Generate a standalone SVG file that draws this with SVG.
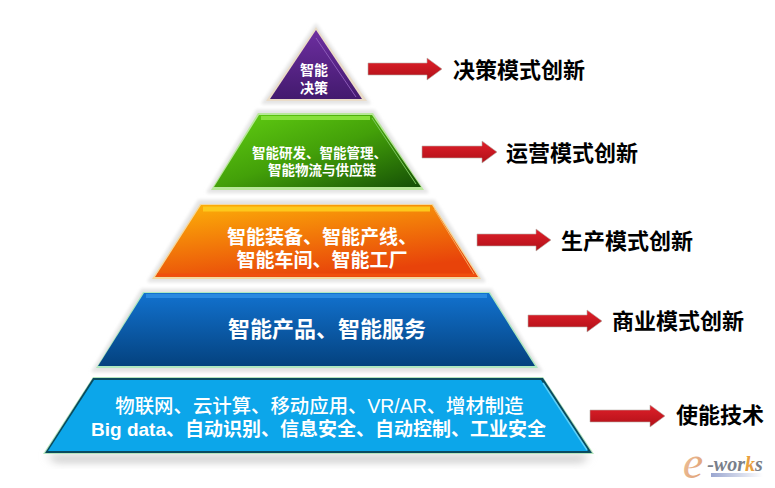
<svg xmlns="http://www.w3.org/2000/svg" width="775" height="488" viewBox="0 0 775 488">
<style>
text{font-family:"Liberation Sans","Noto Sans CJK SC",sans-serif;text-anchor:middle}
.in{fill:#fff;font-weight:700}
.lb{fill:#000;font-weight:700;font-size:22px;text-anchor:start}
.halo{fill:#e0e0e0;stroke:#e8e8e8;stroke-width:3;stroke-linejoin:round;filter:url(#soft)}
.ar{fill:url(#red);stroke:#b5b0a8;stroke-width:.6}
</style>
<defs>
<linearGradient id="pu" x1="0" y1="0" x2="0" y2="1"><stop offset="0" stop-color="#6d2ea0"/><stop offset="1" stop-color="#431a6e"/></linearGradient>
<linearGradient id="gr" x1="0" y1="0" x2="1" y2="1"><stop offset="0" stop-color="#62cf12"/><stop offset=".5" stop-color="#43a009"/><stop offset="1" stop-color="#154f06"/></linearGradient>
<linearGradient id="or" x1="0" y1="0" x2="0.5" y2="1"><stop offset="0" stop-color="#fdb308"/><stop offset="1" stop-color="#e8430a"/></linearGradient>
<linearGradient id="bl" x1="0" y1="0" x2="0" y2="1"><stop offset="0" stop-color="#1272cf"/><stop offset="1" stop-color="#04427f"/></linearGradient>
<linearGradient id="red" x1="0" y1="0" x2="0" y2="1"><stop offset="0" stop-color="#e0202a"/><stop offset="1" stop-color="#b01018"/></linearGradient>
<linearGradient id="sw" x1="0" y1="0" x2="1" y2="0"><stop offset="0" stop-color="#9aa6d0"/><stop offset="1" stop-color="#fff"/></linearGradient>
<linearGradient id="eg" x1="0" y1="0" x2="1" y2="1"><stop offset="0" stop-color="#f0c8a0"/><stop offset="1" stop-color="#dd9a70"/></linearGradient>
<filter id="bl3" x="-10%" y="-100%" width="120%" height="300%"><feGaussianBlur stdDeviation="4.5"/></filter>
<filter id="soft" x="-10%" y="-10%" width="120%" height="120%"><feGaussianBlur stdDeviation="1.6"/></filter>
</defs>

<g id="shadow"><polygon points="46,455 590,455 582,462 56,462" fill="#c4c4c4" filter="url(#bl3)"/></g>

<g id="node-decision">
<polygon class="halo" points="316,25 369,103 263,103"/>
<polygon points="316,27 367,101 266,101" fill="#eadcc8"/>
<polygon points="316,30 362,99 270,99" fill="url(#pu)"/>
<line x1="316" y1="38" x2="356" y2="97" stroke="#8c5ab8" stroke-width="1"/>
<text class="in" font-size="14"><tspan x="314" y="75">智能</tspan><tspan x="314" y="93">决策</tspan></text>
</g>

<g id="node-ops">
<polygon class="halo" points="257,111 374,111 427,192 208,192"/>
<polygon points="258,113 373,113 424,190 211,190" fill="#b8e89a"/>
<polygon points="259,115 372,115 421,187 214,187" fill="url(#gr)"/>
<line x1="261" y1="118" x2="370" y2="118" stroke="#86e03a" stroke-width="4"/>
<line x1="372" y1="118" x2="416" y2="184" stroke="#7fc860" stroke-width="1"/>
<text class="in" font-size="13.500"><tspan x="319.500" y="158">智能研发、智能管理、</tspan><tspan x="322" y="175">智能物流与供应链</tspan></text>
</g>

<g id="node-production">
<polygon class="halo" points="199,201 434,201 484,281 149,281"/>
<polygon points="200,204 433,204 481,279 152,279" fill="#f4d9a0"/>
<polygon points="201,205 432,205 478,277 155,277" fill="url(#or)"/>
<line x1="203" y1="209" x2="430" y2="209" stroke="#fdc81c" stroke-width="5"/>
<line x1="157" y1="275" x2="476" y2="275" stroke="#f0500e" stroke-width="3"/>
<line x1="434" y1="209" x2="474" y2="274" stroke="#f5a860" stroke-width="1"/>
<text class="in" font-size="19"><tspan x="322" y="244">智能装备、智能产线、</tspan><tspan x="322" y="267">智能车间、智能工厂</tspan></text>
</g>

<g id="node-business">
<polygon class="halo" points="142,290 491,290 541,371 93,371"/>
<polygon points="143,292 490,292 538,368 96,368" fill="#b0e8c0"/>
<polygon points="144,293 489,293 535,366 98,366" fill="url(#bl)"/>
<line x1="146" y1="296" x2="487" y2="296" stroke="#2a8ae0" stroke-width="4"/>
<text class="in" x="327" y="337" font-size="22">智能产品、智能服务</text>
</g>

<g id="node-enabling">
<polygon points="93,377 543,377 594,454 43,454" fill="#b4e4bc"/>
<polygon points="93,378 543,378 592,453 45,453" fill="#0a4a5e"/>
<polygon points="94,380 541,380 588,451 48,451" fill="#0ca6ea"/>
<line x1="543" y1="383" x2="587" y2="450" stroke="#5cd0f8" stroke-width="1.500"/>
<text class="in"><tspan x="319.500" y="413" font-size="19.400" style="font-weight:500">物联网、云计算、移动应用、VR/AR、增材制造</tspan><tspan x="318.500" y="436" font-size="19">Big data、自动识别、信息安全、自动控制、工业安全</tspan></text>
</g>

<g id="connectors">
<polygon class="ar" points="368,63 427,63 427,58 442,69 427,80 427,75 368,75"/>
<polygon class="ar" points="422,146 482,146 482,141 497,152 482,163 482,158 422,158"/>
<polygon class="ar" points="477,234 536,234 536,229 551,240 536,251 536,246 477,246"/>
<polygon class="ar" points="528,315 587,315 587,310 602,321 587,332 587,327 528,327"/>
<polygon class="ar" points="590,410 650,410 650,405 665,416 650,427 650,422 590,422"/>
</g>

<g id="labels">
<text class="lb" x="453" y="78">决策模式创新</text>
<text class="lb" x="506" y="161">运营模式创新</text>
<text class="lb" x="561" y="249">生产模式创新</text>
<text class="lb" x="612" y="329">商业模式创新</text>
<text class="lb" x="676" y="423">使能技术</text>
</g>

<g id="logo">
<rect x="711" y="473" width="52" height="4" fill="url(#sw)"/>
<text x="693" y="478" font-size="46" font-style="italic" fill="url(#eg)" style="font-family:'Liberation Serif',serif">e</text>
<text x="735" y="471" font-size="20" font-weight="700" font-style="italic" fill="#7a7f8a" style="font-family:'Liberation Serif',serif">-wor<tspan fill="#e8a040">k</tspan>s</text>
</g>
</svg>
